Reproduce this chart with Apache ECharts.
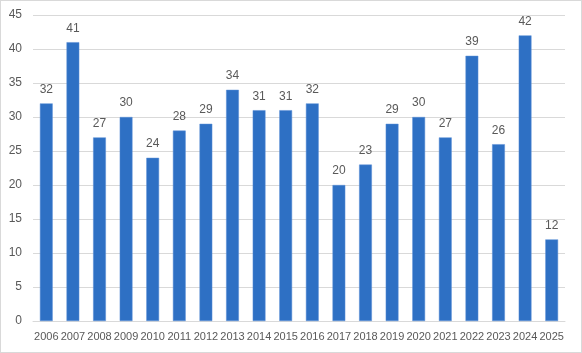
<!DOCTYPE html>
<html>
<head>
<meta charset="utf-8">
<script src="https://cdn.jsdelivr.net/npm/echarts@6/dist/echarts.min.js"></script>
<style>
  html, body { margin: 0; padding: 0; background: #fff; }
  #chart { width: 580px; height: 351px; border: 1px solid #d9d9d9; }
</style>
</head>
<body>
<div id="chart"></div>
<script>
// 年份与数量
var years = ["2006", "2007", "2008", "2009", "2010", "2011", "2012", "2013", "2014", "2015",
  "2016", "2017", "2018", "2019", "2020", "2021", "2022", "2023", "2024", "2025"];
var counts = [32, 41, 27, 30, 24, 28, 29, 34, 31, 31, 32, 20, 23, 29, 30, 27, 39, 26, 42, 12];

var chart = echarts.init(document.getElementById("chart"));
var options = {
  animation: false,
  grid: { left: 32, right: 16, top: 14, bottom: 31 },
  xAxis: {
    type: "category",
    data: years,
    axisTick: { show: false },
    axisLine: { lineStyle: { color: "#d9d9d9" } },
    axisLabel: {
      color: "#595959",
      fontSize: 11,
      fontFamily: "Liberation Sans, Arial",
      interval: 0,
      margin: 10
    }
  },
  yAxis: {
    type: "value",
    min: 0,
    max: 45,
    interval: 5,
    axisLine: { show: false },
    axisTick: { show: false },
    splitLine: { lineStyle: { color: "#d9d9d9" } },
    axisLabel: {
      color: "#595959",
      fontSize: 12,
      fontFamily: "Liberation Sans, Arial",
      margin: 11
    }
  },
  series: [
    {
      type: "bar",
      data: counts,
      barWidth: "48%",
      itemStyle: { color: "#2e70c4", borderColor: "#5b8fd6", borderWidth: 0.5 },
      label: {
        show: true,
        position: "top",
        distance: 8,
        color: "#595959",
        fontSize: 12,
        fontFamily: "Liberation Sans, Arial"
      }
    }
  ]
};
chart.setOption(options);
</script>
</body>
</html>
